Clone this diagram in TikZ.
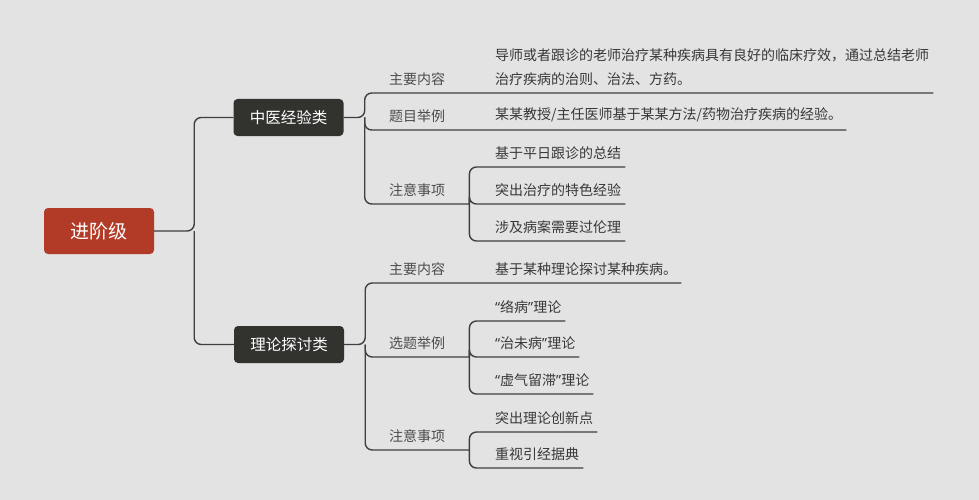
\documentclass[tikz,border=0pt]{standalone}
\usepackage{fontspec}
\setmainfont{Noto Sans CJK SC}
\newfontfamily\latinq{Noto Sans}
\usetikzlibrary{positioning}
\definecolor{bggray}{HTML}{E3E3E3}
\definecolor{rootred}{HTML}{B23B28}
\definecolor{topicdark}{HTML}{32322F}
\definecolor{linegray}{HTML}{3F3F3F}
\definecolor{labelgray}{HTML}{4C4C4C}
\definecolor{leafgray}{HTML}{383838}
\newcommand{\quoted}[1]{{\latinq “}#1{\latinq ”}}
\tikzstyle{rootbox} = [rectangle, rounded corners=4pt, fill=rootred, text=white, font=\fontsize{19}{19}\selectfont, minimum width=110pt, minimum height=46pt, inner sep=0pt]
\tikzstyle{topicbox} = [rectangle, rounded corners=4pt, fill=topicdark, text=white, font=\fontsize{15.5}{16}\selectfont, minimum width=110pt, minimum height=37pt, inner sep=0pt]
\tikzstyle{lblnode} = [anchor=south west, inner xsep=24pt, inner ysep=7.5pt, text=labelgray, font=\fontsize{14}{24}\selectfont]
\tikzstyle{leafnode} = [anchor=south west, inner xsep=4pt, inner ysep=7.5pt, text=leafgray, font=\fontsize{14}{24}\selectfont, align=left]
\tikzstyle{link} = [draw=linegray, line width=1.4pt, rounded corners=7pt]

\begin{document}
\begin{tikzpicture}[x=1pt,y=-1pt]
	\fill[bggray] (0,0) rectangle (979,500);
	\node[rootbox] (root) at (99,231) {进阶级};
	\node[topicbox] (tcm) at (288.5,117.5) {中医经验类};
	\node[topicbox] (theory) at (289,344.5) {理论探讨类};
	\coordinate[right=40pt of root] (j0);
	\coordinate[right=21pt of tcm] (jA);
	\coordinate[right=21pt of theory] (jB);
	
	\node[lblnode] (a1) at (365,93) {主要内容};
	\node[lblnode] (a2) at (365,130) {题目举例};
	\node[lblnode] (a3) at (365,204) {注意事项};
	\node[leafnode] (a1c) at (491,93) {导师或者跟诊的老师治疗某种疾病具有良好的临床疗效，通过总结老师\\治疗疾病的治则、治法、方药。};
	\node[leafnode] (a2c) at (491,130) {某某教授/主任医师基于某某方法/药物治疗疾病的经验。};
	\node[leafnode] (a31) at (491,167) {基于平日跟诊的总结};
	\node[leafnode] (a32) at (491,204) {突出治疗的特色经验};
	\node[leafnode] (a33) at (491,241) {涉及病案需要过伦理};
	
	\node[lblnode] (b1) at (365,283) {主要内容};
	\node[lblnode] (b2) at (365,357) {选题举例};
	\node[lblnode] (b3) at (365,450) {注意事项};
	\node[leafnode] (b1c) at (491,283) {基于某种理论探讨某种疾病。};
	\node[leafnode] (b21) at (491,321) {\quoted{络病}理论};
	\node[leafnode] (b22) at (491,357) {\quoted{治未病}理论};
	\node[leafnode] (b23) at (491,394) {\quoted{虚气留滞}理论};
	\node[leafnode] (b31) at (491,432) {突出理论创新点};
	\node[leafnode] (b32) at (491,468) {重视引经据典};
	
	\draw[link] (root) -- (j0) |- (tcm);
	\draw[link] (j0) |- (theory);
	\draw[link] (tcm) -- (jA) |- (a1c.south east);
	\foreach \n in {a2c,a3}
		\draw[link] (jA) |- (\n.south east);
	\foreach \n in {a31,a32,a33}
		\draw[link] (a3.south east) |- (\n.south east);
	\draw[link] (theory) -- (jB) |- (b1c.south east);
	\foreach \n in {b2,b3}
		\draw[link] (jB) |- (\n.south east);
	\foreach \n in {b21,b22,b23}
		\draw[link] (b2.south east) |- (\n.south east);
	\foreach \n in {b31,b32}
		\draw[link] (b3.south east) |- (\n.south east);
\end{tikzpicture}
\end{document}
